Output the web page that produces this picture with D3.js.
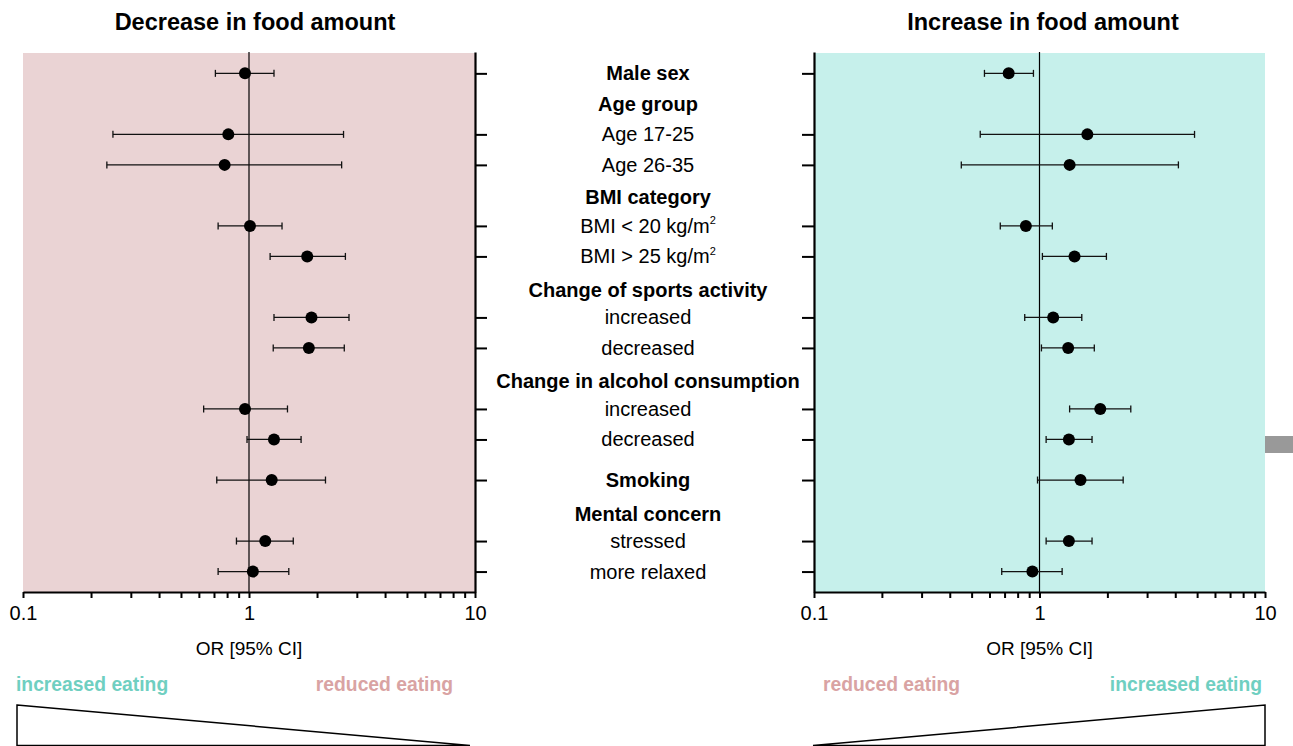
<!DOCTYPE html>
<html>
<head>
<meta charset="utf-8">
<script src="https://cdn.jsdelivr.net/npm/d3@7"></script>
<style>
  body { margin: 0; background: #fff; }
  text { font-family: "Liberation Sans", Arial, sans-serif; }
</style>
</head>
<body>
<svg id="chart" width="1293" height="746"></svg>
<script>
// row labels (middle column) and their row position
var labelText = ['Male sex', 'Age group', 'Age 17-25', 'Age 26-35', 'BMI category',
  'BMI < 20 kg/m', 'BMI > 25 kg/m', 'Change of sports activity', 'increased', 'decreased',
  'Change in alcohol consumption', 'increased', 'decreased', 'Smoking', 'Mental concern',
  'stressed', 'more relaxed'];
var labelRow = [0, 1, 2, 3, 4.05, 5, 6, 7.1, 8, 9, 10.07, 11, 12, 13.33, 14.44, 15.33, 16.33];
var labelBold = [1, 1, 0, 0, 1, 0, 0, 1, 0, 0, 1, 0, 0, 1, 1, 0, 0];

// rows that carry an estimate
var rows = [0, 2, 3, 5, 6, 8, 9, 11, 12, 13.33, 15.33, 16.33];

// decrease in food amount
var decOR = [0.96, 0.81, 0.78, 1.01, 1.81, 1.89, 1.84, 0.96, 1.29, 1.26, 1.18, 1.04];
var decLo = [0.71, 0.25, 0.235, 0.73, 1.24, 1.29, 1.28, 0.63, 0.98, 0.72, 0.88, 0.73];
var decHi = [1.29, 2.62, 2.57, 1.40, 2.67, 2.77, 2.64, 1.48, 1.70, 2.18, 1.57, 1.50];

// increase in food amount
var incOR = [0.73, 1.63, 1.36, 0.87, 1.43, 1.15, 1.34, 1.86, 1.35, 1.52, 1.35, 0.93];
var incLo = [0.57, 0.546, 0.45, 0.67, 1.03, 0.86, 1.02, 1.36, 1.07, 0.98, 1.07, 0.68];
var incHi = [0.94, 4.87, 4.13, 1.14, 1.98, 1.54, 1.75, 2.54, 1.71, 2.35, 1.71, 1.26];

var xTicks = [0.1, 1, 10];

var svg = d3.select('#chart');
var yTop = 52, yBottom = 592;
var y = d3.scaleLinear().domain([-0.7, 17]).range([yTop, yBottom]);

function panel(opt) {
  var x = d3.scaleLog().domain([0.1, 10]).range([opt.x0, opt.x1]);
  var g = svg.append('g');

  g.append('rect')
    .attr('x', opt.x0).attr('y', yTop + 1)
    .attr('width', opt.x1 - opt.x0).attr('height', yBottom - yTop - 1)
    .attr('fill', opt.bg);

  g.append('line')
    .attr('x1', x(1)).attr('x2', x(1))
    .attr('y1', yTop).attr('y2', yBottom)
    .attr('stroke', '#000').attr('stroke-width', 1.2);

  // bottom log axis
  var minor = [];
  [0.1, 1].forEach(function(d) { for (var k = 2; k <= 9; k++) minor.push(d * k); });
  var ax = g.append('g').attr('transform', 'translate(0,' + yBottom + ')')
    .call(d3.axisBottom(x).tickValues(xTicks.concat(minor)).tickSize(6).tickSizeOuter(0)
      .tickFormat(function(d) { return xTicks.indexOf(d) >= 0 ? d3.format('')(d) : ''; }));
  ax.select('.domain').attr('stroke-width', 2.2);
  ax.selectAll('.tick line').attr('stroke-width', 2);
  ax.selectAll('.tick text').attr('font-size', 20).attr('y', 14).attr('dy', '0.71em').attr('fill', '#000')
    .style('font-family', '"Liberation Sans", Arial, sans-serif');

  // vertical axis with outward ticks
  var yAxis = (opt.side === 'right' ? d3.axisRight(y) : d3.axisLeft(y))
    .tickValues(rows).tickSize(12).tickSizeOuter(0).tickFormat('');
  var ay = g.append('g').attr('transform', 'translate(' + (opt.side === 'right' ? opt.x1 : opt.x0) + ',0)')
    .call(yAxis);
  ay.select('.domain').attr('stroke-width', 2.2);
  ay.selectAll('.tick line').attr('stroke-width', 2);

  // error bars
  var bars = g.append('g').selectAll('g').data(rows).enter().append('g');
  bars.append('line')
    .attr('x1', function(d, i) { return x(opt.lo[i]); })
    .attr('x2', function(d, i) { return x(opt.hi[i]); })
    .attr('y1', function(d) { return y(d); }).attr('y2', function(d) { return y(d); })
    .attr('stroke', '#111').attr('stroke-width', 1.3);
  ['lo', 'hi'].forEach(function(k) {
    bars.append('line')
      .attr('x1', function(d, i) { return x(opt[k][i]); })
      .attr('x2', function(d, i) { return x(opt[k][i]); })
      .attr('y1', function(d) { return y(d) - 3.5; }).attr('y2', function(d) { return y(d) + 3.5; })
      .attr('stroke', '#111').attr('stroke-width', 1.3);
  });
  bars.append('circle')
    .attr('cx', function(d, i) { return x(opt.or[i]); })
    .attr('cy', function(d) { return y(d); })
    .attr('r', 6).attr('fill', '#000');

  g.append('text')
    .attr('x', opt.titleX).attr('y', 30)
    .attr('text-anchor', 'middle').attr('font-size', 23.5).attr('font-weight', 'bold')
    .text(opt.title);

  g.append('text')
    .attr('x', x(1)).attr('y', 655)
    .attr('text-anchor', 'middle').attr('font-size', 19)
    .text('OR [95% CI]');

  // direction labels
  g.append('text').attr('x', opt.leftX).attr('y', 691).attr('font-size', 19.3).attr('font-weight', 'bold')
    .attr('fill', opt.leftColor).attr('text-anchor', 'start').text(opt.leftLabel);
  g.append('text').attr('x', opt.rightX).attr('y', 691).attr('font-size', 19.3).attr('font-weight', 'bold')
    .attr('fill', opt.rightColor).attr('text-anchor', 'end').text(opt.rightLabel);

  g.append('path')
    .attr('d', opt.tri)
    .attr('fill', '#fff').attr('stroke', '#000').attr('stroke-width', 1.5);
}

var teal = '#6fcfc1', rose = '#d9a3a3';

panel({ x0: 23, x1: 475, side: 'right', bg: '#ead3d4', or: decOR, lo: decLo, hi: decHi,
  title: 'Decrease in food amount', titleX: 255,
  leftLabel: 'increased eating', leftColor: teal, leftX: 16,
  rightLabel: 'reduced eating', rightColor: rose, rightX: 453,
  tri: 'M17,705 L470,745.5 L17,745.5 Z' });

panel({ x0: 814, x1: 1265, side: 'left', bg: '#c6f0eb', or: incOR, lo: incLo, hi: incHi,
  title: 'Increase in food amount', titleX: 1043,
  leftLabel: 'reduced eating', leftColor: rose, leftX: 823,
  rightLabel: 'increased eating', rightColor: teal, rightX: 1262,
  tri: 'M813,745.5 L1265,705 L1265,745.5 Z' });

// middle labels
var lab = svg.append('g').selectAll('text').data(labelText).enter().append('text')
  .attr('x', 648)
  .attr('y', function(d, i) { return y(labelRow[i]); })
  .attr('dy', '0.35em')
  .attr('text-anchor', 'middle')
  .attr('font-size', 20)
  .attr('font-weight', function(d, i) { return labelBold[i] ? 'bold' : 'normal'; })
  .text(function(d) { return d; });
lab.filter(function(d) { return d.indexOf('kg/m') >= 0; })
  .append('tspan').attr('font-size', 11).attr('dy', '-0.8em').text('2');

// grey marker on the right edge
svg.append('rect').attr('x', 1265).attr('y', 436).attr('width', 28).attr('height', 17).attr('fill', '#999');
</script>
</body>
</html>
